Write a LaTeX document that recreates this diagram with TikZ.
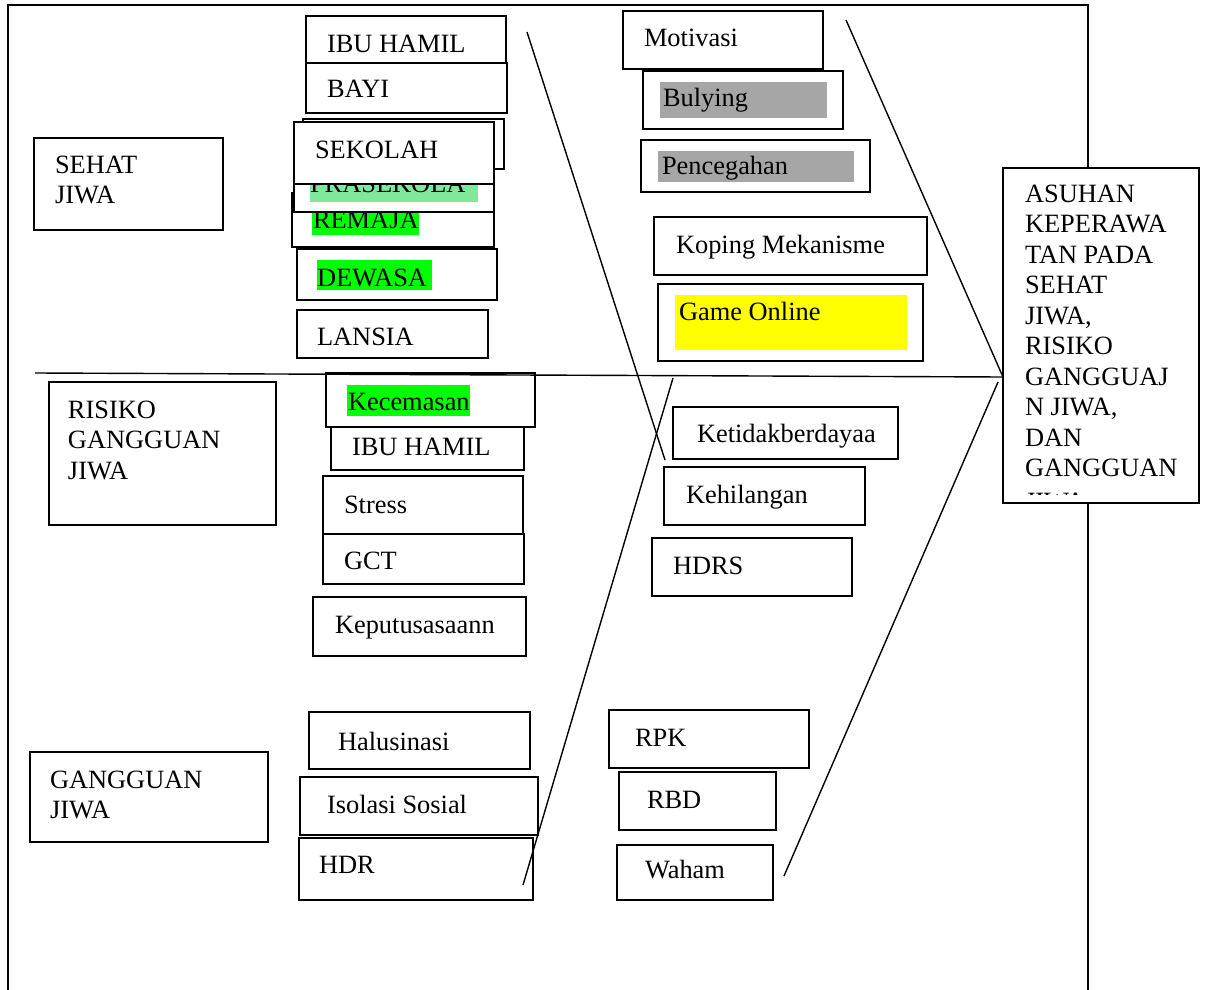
\documentclass[tikz,border=0pt]{standalone}
\usepackage{fontspec}
\setmainfont{Liberation Serif}
\definecolor{hlgreen}{HTML}{00FF00}
\definecolor{hllight}{HTML}{7FE89A}
\definecolor{hlgray}{HTML}{A6A6A6}
\definecolor{hlyellow}{HTML}{FFFF00}
\tikzset{
  bx/.style={draw, line width=0.9pt, fill=white, inner sep=0pt, outer sep=0pt},
  tx/.style={anchor=base west, inner sep=0pt, outer sep=0pt, font=\fontsize{13.2}{15.3}\selectfont},
  ln/.style={line width=0.7pt},
  frame/.style={line width=1pt},
}
\newcommand\mybox[5]{\node[bx, minimum width={(#4-#2)*0.5pt}, minimum height={(#5-#3)*0.5pt}] (#1) at ({(#2+#4)/2},{(#3+#5)/2}) {};}
\newcommand\mytext[4]{\node[tx] (#1) at (#2,#3) {#4};}
\newcommand\myhl[5]{\fill[#1] (#2,#3) rectangle (#4,#5);}
\begin{document}
\begin{tikzpicture}[x=0.5pt,y=-0.5pt]
\useasboundingbox (0,0) rectangle (1205,990);
% frame
\coordinate (f1) at (8,990);
\coordinate (f2) at (8,5);
\coordinate (f3) at (1088,5);
\coordinate (f4) at (1088,990);
\draw[frame] (f1) -- (f2) -- (f3) -- (f4);

% left labels
\mybox{sehat}{34}{138}{223}{230}
\mytext{sehat1}{55}{174}{SEHAT}
\mytext{sehat2}{55}{204}{JIWA}
\mybox{risiko}{49}{382}{276}{525}
\mytext{risiko1}{68}{418}{RISIKO}
\mytext{risiko2}{68}{448.5}{GANGGUAN}
\mytext{risiko3}{68}{479}{JIWA}
\mybox{gangguan}{30}{752}{268}{842}
\mytext{gang1}{50}{788}{GANGGUAN}
\mytext{gang2}{50}{818}{JIWA}

% column 1 top
\mybox{ibu}{306}{16}{506}{73}
\mytext{ibut}{327}{53}{IBU HAMIL}
\mybox{bayi}{306}{63}{507}{113}
\mytext{bayit}{327}{98}{BAYI}
\mybox{back}{303}{119}{504}{169}
\mybox{remaja}{292}{193}{494}{247}
\myhl{hlgreen}{312}{209}{419}{235}
\mytext{remajat}{313}{228}{REMAJA}
\mybox{prasek}{294}{123}{494}{212}
\myhl{hllight}{310}{176}{478}{202}
\mytext{prasekt}{310}{192}{PRASEKOLA}
\mybox{sekolah}{294}{122}{494}{184}
\mytext{sekolaht}{315}{159}{SEKOLAH}
\mybox{dewasa}{297}{249}{497}{300}
\myhl{hlgreen}{317}{260}{432}{290}
\mytext{dewasat}{317}{286}{DEWASA}
\mybox{lansia}{297}{310}{488}{358}
\mytext{lansiat}{317}{345}{LANSIA}

% column 1 lower
\mybox{kecem}{326}{373}{535}{427}
\myhl{hlgreen}{347}{385}{470}{416}
\mytext{kecemt}{348}{410}{Kecemasan}
\mybox{ibu2}{331}{427}{524}{470}
\mytext{ibu2t}{352}{455}{IBU HAMIL}
\mybox{stress}{323}{476}{523}{534}
\mytext{stresst}{344}{513}{Stress}
\mybox{gct}{323}{534}{524}{584}
\mytext{gctt}{344}{569}{GCT}
\mybox{keput}{313}{597}{526}{656}
\mytext{keputt}{335}{633}{Keputusasaann}

% column 2 top
\mybox{motiv}{623}{11}{823}{69}
\mytext{motivt}{644}{47}{Motivasi}
\mybox{buly}{643}{71}{843}{129}
\myhl{hlgray}{660}{82}{827}{118}
\mytext{bulyt}{663}{107}{Bulying}
\mybox{pence}{641}{140}{870}{192}
\myhl{hlgray}{658}{151}{854}{182}
\mytext{pencet}{662}{175}{Pencegahan}
\mybox{koping}{654}{217}{927}{275}
\mytext{kopingt}{676}{253}{Koping Mekanisme}
\mybox{game}{658}{284}{923}{361}
\myhl{hlyellow}{675}{295}{907}{350}
\mytext{gamet}{679}{320}{Game Online}

% column 2 lower
\mybox{ketid}{673}{407}{898}{459}
\mytext{ketidt}{697}{442}{Ketidakberdayaa}
\mybox{kehil}{664}{467}{865}{525}
\mytext{kehilt}{686}{503}{Kehilangan}
\mybox{hdrs}{652}{538}{852}{596}
\mytext{hdrst}{673}{574}{HDRS}

% bottom
\mybox{halu}{309}{712}{530}{769}
\mytext{halut}{338}{750}{Halusinasi}
\mybox{isol}{300}{777}{538}{835}
\mytext{isolt}{327}{813}{Isolasi Sosial}
\mybox{hdr}{299}{838}{533}{900}
\mytext{hdrt}{319}{873}{HDR}
\mybox{rpk}{609}{710}{809}{768}
\mytext{rpkt}{635}{746}{RPK}
\mybox{rbd}{619}{772}{776}{830}
\mytext{rbdt}{647}{808}{RBD}
\mybox{waham}{617}{845}{773}{900}
\mytext{wahamt}{645}{878}{Waham}

% fishbone lines
\coordinate (tail) at (35,373);
\coordinate (head) at (1003,377);
\coordinate (d1a) at (527,32);
\coordinate (d1b) at (665,460);
\coordinate (d2a) at (846,20);
\coordinate (d3a) at (673,378);
\coordinate (d3b) at (523,885);
\coordinate (d4a) at (998,382);
\coordinate (d4b) at (784,876);
\draw[ln] (tail) -- (head);
\draw[ln] (d1a) -- (d1b);
\draw[ln] (d2a) -- (head);
\draw[ln] (d3a) -- (d3b);
\draw[ln] (d4a) -- (d4b);

% head box
\mybox{asuhan}{1003}{168}{1199}{503}
\begin{scope}
\clip (1003,168) rectangle (1199,494);
\mytext{a1}{1025}{202}{ASUHAN}
\mytext{a2}{1025}{232.5}{KEPERAWA}
\mytext{a3}{1025}{263}{TAN PADA}
\mytext{a4}{1025}{293.5}{SEHAT}
\mytext{a5}{1025}{324}{JIWA,}
\mytext{a6}{1025}{354.5}{RISIKO}
\mytext{a7}{1025}{385}{GANGGUAJ}
\mytext{a8}{1025}{415.5}{N JIWA,}
\mytext{a9}{1025}{446}{DAN}
\mytext{a10}{1025}{476.5}{GANGGUAN}
\mytext{a11}{1025}{510}{JIWA}
\end{scope}
\end{tikzpicture}
\end{document}
